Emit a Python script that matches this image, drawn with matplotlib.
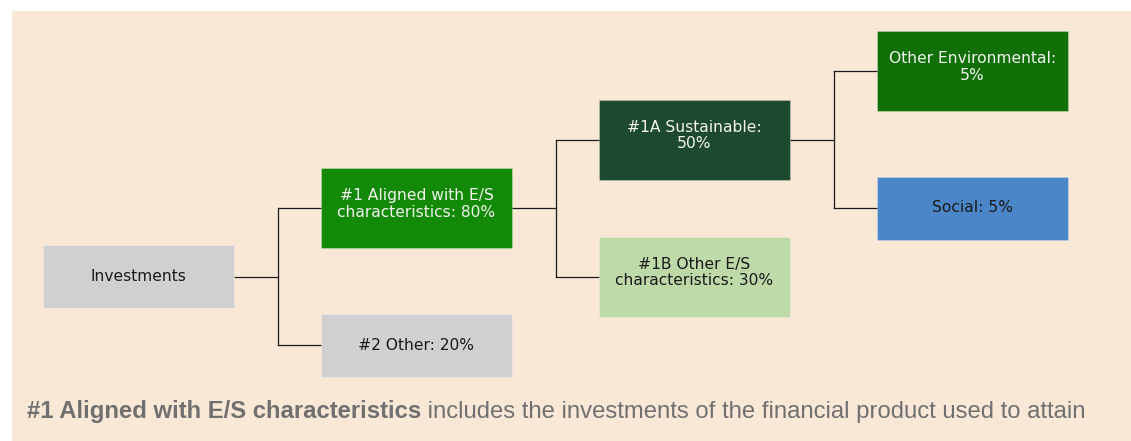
import matplotlib.pyplot as plt
from matplotlib.patches import Rectangle

# === DATA === #
names = ['Investments',
         '#1 Aligned with E/S\ncharacteristics',
         '#2 Other',
         '#1A Sustainable',
         '#1B Other E/S\ncharacteristics',
         'Other Environmental',
         'Social']
shares = [None, 80, 20, 50, 30, 5, 5]  # % of investments
parents = [None, 0, 0, 1, 1, 3, 3]
note_bold = '#1 Aligned with E/S characteristics'
note_rest = ' includes the investments of the financial product used to attain'

# === STYLE / LAYOUT === #
W, H = 1131, 441
BG = '#FAE8D7'
box_colors = ['#D0D0D0', '#138A07', '#D0D0D0', '#1D4A2E', '#BDDAA8', '#107006', '#4A86C8']
text_colors = ['#1A1A1A', '#F2F2F2', '#1A1A1A', '#F2F2F2', '#1A1A1A', '#F2F2F2', '#1A1A1A']
rows = [3, 2, 4, 1, 3, 0, 2]  # vertical slot of each node
level_x0 = 43   # left of first column (px)
level_step = 278
box_w = 191
row_y0 = 71     # centre of top slot (px)
row_step = 68.5
elbow = 44      # distance from box right edge to the vertical connector


def level_of(i):
    n = 0
    while parents[i] is not None:
        i = parents[i]
        n += 1
    return n


def label_of(i):
    if shares[i] is None:
        return names[i]
    sep = ':\n' if ('\n' not in names[i] and len(names[i]) > 12) else ': '
    return f'{names[i]}{sep}{shares[i]}%'


fig = plt.figure(figsize=(W / 100, H / 100), dpi=100)
ax = fig.add_axes([0, 0, 1, 1])
ax.set_xlim(0, W)
ax.set_ylim(H, 0)
ax.axis('off')

ax.add_patch(Rectangle((12, 11), W - 12, H - 11, facecolor=BG, edgecolor='none', zorder=0))

centres = []
for i in range(len(names)):
    lab = label_of(i)
    two_lines = '\n' in lab
    h = 80 if two_lines else 63
    x0 = level_x0 + level_of(i) * level_step
    yc = row_y0 + rows[i] * row_step
    centres.append((x0, yc))
    ax.add_patch(Rectangle((x0, yc - h / 2), box_w, h, facecolor=box_colors[i],
                           edgecolor='#FFFFFF40', linewidth=0.8, zorder=2))
    ax.text(x0 + box_w / 2, yc - (4 if two_lines else 0), lab, ha='center', va='center',
            color=text_colors[i], fontsize=11.2, family='DejaVu Sans',
            linespacing=1.1, zorder=3)

# connectors
for p in set(q for q in parents if q is not None):
    kids = [k for k in range(len(names)) if parents[k] == p]
    px, py = centres[p]
    xr = px + box_w
    xv = xr + elbow
    ys = [centres[k][1] for k in kids]
    ax.plot([xr, xv], [py, py], color='#1A1A1A', lw=0.9, zorder=1)
    ax.plot([xv, xv], [min(ys), max(ys)], color='#1A1A1A', lw=0.9, zorder=1)
    for k in kids:
        ax.plot([xv, centres[k][0]], [centres[k][1], centres[k][1]], color='#1A1A1A', lw=0.9, zorder=1)

# footnote
t1 = ax.text(27, 423, note_bold, ha='left', va='bottom', fontsize=17.2, fontweight='bold',
             family='Liberation Sans', color='#707070')
ax.annotate(note_rest, xy=(1, 0), xycoords=t1, ha='left', va='bottom', fontsize=17.2,
            family='Liberation Sans', color='#707070')

fig.savefig('out.png', dpi=100, facecolor='white')
